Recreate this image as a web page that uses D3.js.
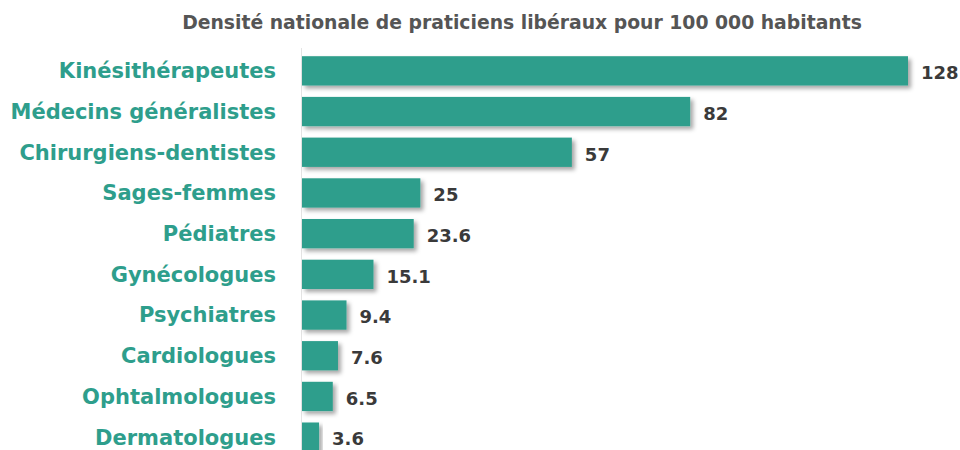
<!DOCTYPE html>
<html>
<head>
<meta charset="utf-8">
<script src="https://d3js.org/d3.v7.min.js"></script>
<style>
  body { margin: 0; background: #fff; }
</style>
</head>
<body>
<script>
var categories = ["Kinésithérapeutes", "Médecins généralistes", "Chirurgiens-dentistes", "Sages-femmes",
  "Pédiatres", "Gynécologues", "Psychiatres", "Cardiologues", "Ophtalmologues", "Dermatologues"];
var values = [128, 82, 57, 25, 23.6, 15.1, 9.4, 7.6, 6.5, 3.6];
var valueLabels = ["128", "82", "57", "25", "23.6", "15.1", "9.4", "7.6", "6.5", "3.6"];
var title = "Densité nationale de praticiens libéraux pour 100 000 habitants";

var width = 960, height = 450;
var svg = d3.select("body").append("svg")
  .attr("width", width)
  .attr("height", height);

var defs = svg.append("defs");
var f = defs.append("filter").attr("id", "shadow")
  .attr("x", "-10%").attr("y", "-30%").attr("width", "130%").attr("height", "180%");
f.append("feDropShadow").attr("dx", 3).attr("dy", 3).attr("stdDeviation", 2)
  .attr("flood-color", "#000").attr("flood-opacity", 0.35);

var x = d3.scaleLinear().domain([0, 128]).range([302, 908]);
var y = d3.scaleBand().domain(categories).range([50.5, 457.5]).paddingInner(0.28).paddingOuter(0.14);

var font = "'DejaVu Sans', Verdana, sans-serif";

svg.append("text")
  .attr("x", 522).attr("y", 29)
  .attr("text-anchor", "middle")
  .style("font-family", font)
  .style("font-weight", "bold")
  .style("font-size", "18.8px")
  .style("fill", "#555")
  .text(title);

svg.append("line")
  .attr("x1", 301.5).attr("x2", 301.5)
  .attr("y1", 48).attr("y2", height)
  .attr("stroke", "#e4e4e4").attr("stroke-width", 1);

svg.selectAll("rect.bar")
  .data(values)
  .enter().append("rect")
  .attr("class", "bar")
  .attr("x", x(0))
  .attr("y", function(d, i) { return y(categories[i]); })
  .attr("width", function(d) { return x(d) - x(0); })
  .attr("height", y.bandwidth())
  .attr("fill", "#2e9e8c")
  .attr("filter", "url(#shadow)");

svg.selectAll("text.cat")
  .data(categories)
  .enter().append("text")
  .attr("class", "cat")
  .attr("x", 276)
  .attr("y", function(d) { return y(d) + y.bandwidth() / 2; })
  .attr("dy", "0.35em")
  .attr("text-anchor", "end")
  .style("font-family", font)
  .style("font-weight", "bold")
  .style("font-size", "21px")
  .style("fill", "#2e9e8c")
  .text(function(d) { return d; });

svg.selectAll("text.val")
  .data(values)
  .enter().append("text")
  .attr("class", "val")
  .attr("x", function(d) { return x(d) + 13; })
  .attr("y", function(d, i) { return y(categories[i]) + y.bandwidth() / 2 + 2; })
  .attr("dy", "0.35em")
  .style("font-family", font)
  .style("font-weight", "bold")
  .style("font-size", "18px")
  .style("fill", "#3a3a3a")
  .text(function(d, i) { return valueLabels[i]; });
</script>
</body>
</html>
